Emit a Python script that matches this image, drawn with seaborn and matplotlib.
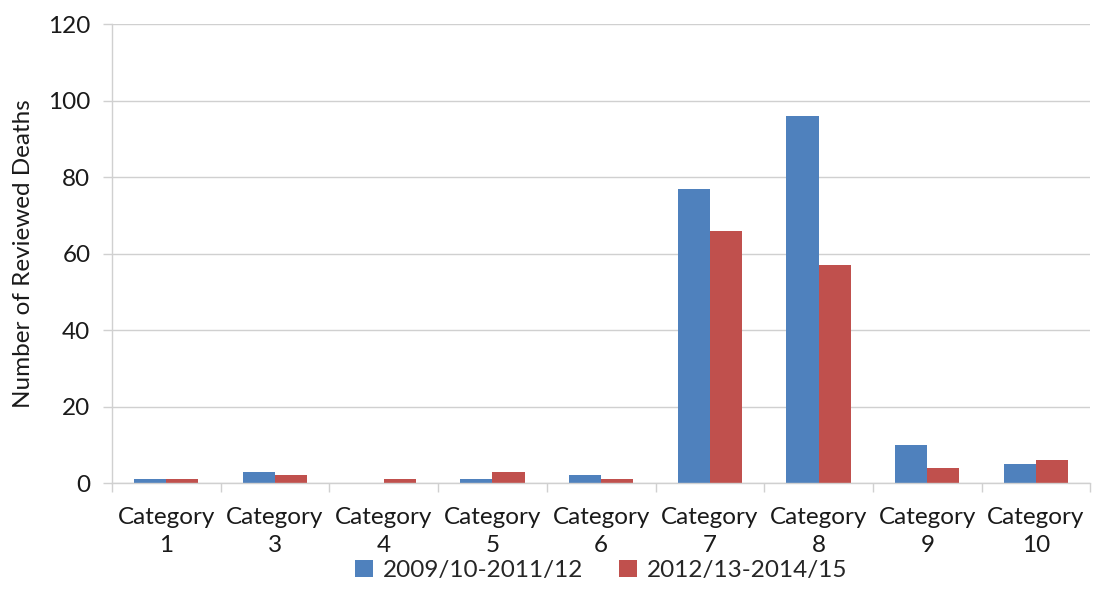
import matplotlib
matplotlib.use("Agg")
import matplotlib.pyplot as plt
from matplotlib.ticker import FixedLocator
import seaborn as sns
import pandas as pd

categories = ["Category\n1", "Category\n3", "Category\n4", "Category\n5", "Category\n6",
              "Category\n7", "Category\n8", "Category\n9", "Category\n10"]
series_names = ["2009/10-2011/12", "2012/13-2014/15"]
period_a = [1, 3, 0, 1, 2, 77, 96, 10, 5]
period_b = [1, 2, 1, 3, 1, 66, 57, 4, 6]
colors = ["#4F81BD", "#C0504D"]

df = pd.DataFrame({
    "category": categories * 2,
    "period": [series_names[0]] * len(categories) + [series_names[1]] * len(categories),
    "deaths": period_a + period_b,
})

sns.set_theme(style="white")
plt.rcParams["font.family"] = ["Lato", "DejaVu Sans"]

fs = 17.5
txt_c = "#1a1a1a"

fig = plt.figure(figsize=(10.98, 6.04), dpi=100)
ax = fig.add_axes([0.102, 0.2003, 0.891, 0.7597])

sns.barplot(data=df, x="category", y="deaths", hue="period", palette=colors,
            width=0.59, gap=0, ax=ax, saturation=1, edgecolor="none", legend=True)

grid_c = "#D0D0D0"
ax.set_xlim(-0.5, len(categories) - 0.5)
ax.set_ylim(0, 120)
ax.set_yticks(range(0, 121, 20))
ax.yaxis.grid(True, color=grid_c, linewidth=1)
ax.set_axisbelow(True)

for side in ["top", "right"]:
    ax.spines[side].set_visible(False)
ax.spines["left"].set_color(grid_c)
ax.spines["bottom"].set_color(grid_c)
ax.spines["left"].set_linewidth(1)
ax.spines["bottom"].set_linewidth(1)

ax.tick_params(axis="y", which="major", length=6.5, color=grid_c, width=1,
               labelsize=fs, labelcolor=txt_c, pad=9, left=True)
ax.tick_params(axis="x", which="major", length=0, labelsize=fs,
               labelcolor=txt_c, pad=17)
ax.xaxis.set_minor_locator(FixedLocator([i - 0.5 for i in range(len(categories) + 1)]))
ax.tick_params(axis="x", which="minor", length=6.5, color=grid_c, width=1, bottom=True)
for lbl in ax.get_xticklabels():
    lbl.set_linespacing(1.45)

ax.set_xlabel("")
ax.set_ylabel("Number of Reviewed Deaths", fontsize=fs, color=txt_c, labelpad=10)

handles, labels = ax.get_legend_handles_labels()
ax.legend(handles, labels, loc="center", bbox_to_anchor=(0.5, -0.19),
          ncol=2, frameon=False, fontsize=fs, handlelength=0.75, handleheight=0.75,
          columnspacing=1.45, handletextpad=0.4, borderaxespad=0)

fig.savefig("out.png", dpi=100)
